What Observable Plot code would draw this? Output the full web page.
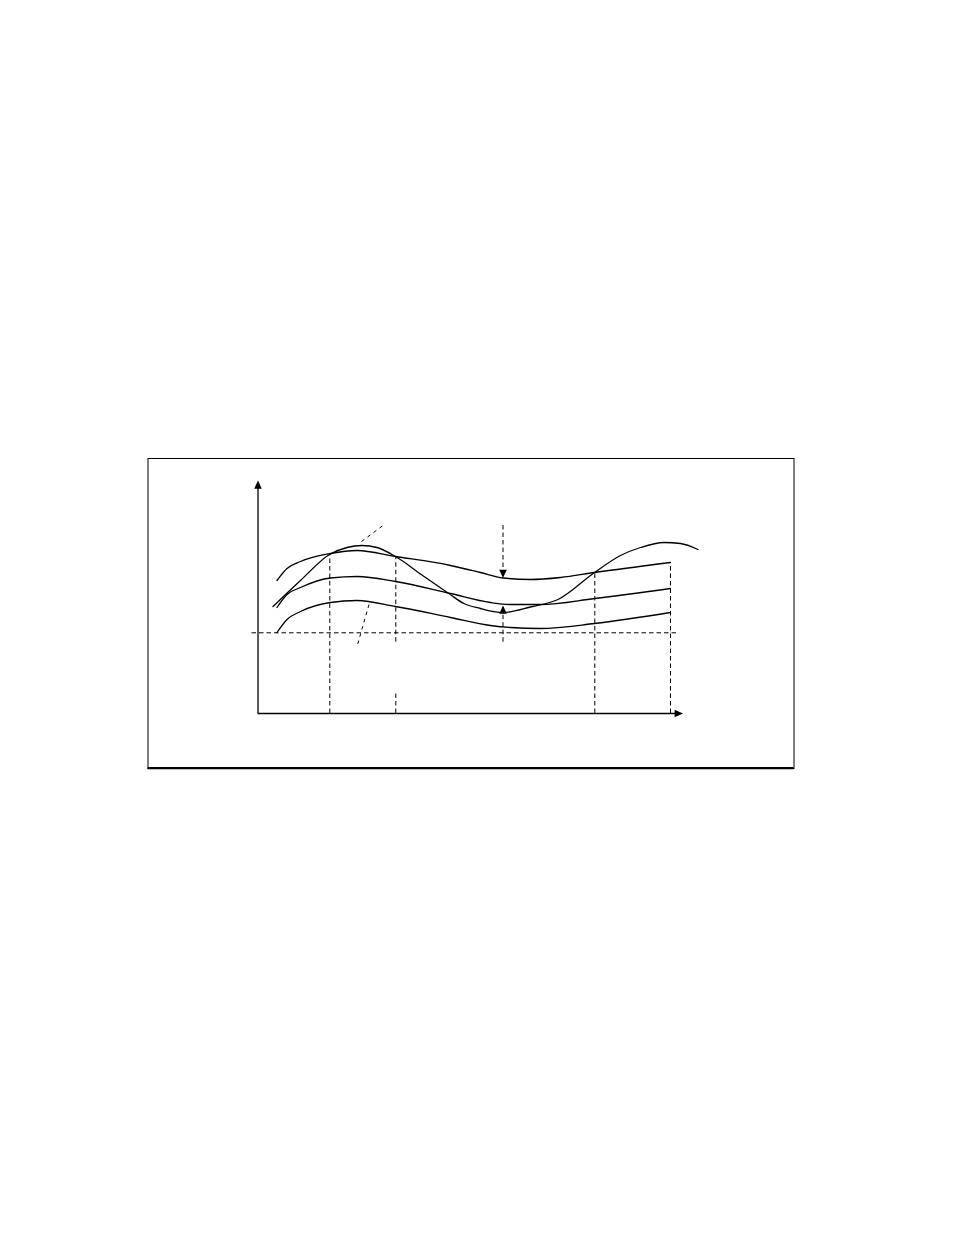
<!DOCTYPE html>
<html>
<head>
<meta charset="utf-8">
<script src="https://cdn.jsdelivr.net/npm/d3@7"></script>
<script src="https://cdn.jsdelivr.net/npm/@observablehq/plot@0.6"></script>
<style>
  html, body { margin: 0; padding: 0; background: #fff; }
  #spacer { height: 440px; }
  #chart svg { display: block; }
</style>
</head>
<body>
<div id="spacer"></div>
<div id="chart"></div>
<script>
// ---- scale extents (data units) ----
const xDomain = [-110, 536];
const yDomain = [-55, 255];

// ---- curves ----
const upperX = [19, 29, 42.5, 72.5, 99, 137.5, 192.5, 222.5, 245, 272.5, 302.5, 336.5, 412.5];
const upperY = [133, 145, 152, 160, 163, 157, 148, 141, 135.5, 134, 136, 141, 151];

const middleX = [19, 29, 42.5, 72.5, 99, 137.5, 192.5, 232.5, 252.5, 282.5, 336.5, 412.5];
const middleY = [106, 119, 126, 135.5, 137, 132, 120, 111, 109, 109, 115, 125];

const lowerX = [19, 29, 42.5, 72.5, 99, 137.5, 192.5, 232.5, 252.5, 282.5, 336.5, 412.5];
const lowerY = [81, 94, 102, 111, 113, 107, 96, 88, 86, 85, 90, 101];

const waveX = [15, 42.5, 71.5, 89, 104, 119, 137.5, 164, 190.8, 205.8, 222.5, 235, 244.5, 272.5, 300, 336.5, 362.5, 382.5, 406, 422.5, 440];
const waveY = [107, 133, 159, 166, 168, 166, 157, 138.5, 120, 110, 105, 102, 100.8, 106.5, 114, 141, 158, 166, 171, 170, 164];

// ---- reference lines ----
const levelY = 80.7;
const levelX = [-6, 418.5];

const dropX = [71.8, 137.8, 137.8, 336.8, 412.5];
const dropTop = [160, 157, 20.7, 141, 151];
const dropBottom = [0, 71.3, 0, 0, 0];

const tangentX1 = [103.5, 111];
const tangentY1 = [172, 109];
const tangentX2 = [125, 99];
const tangentY2 = [188, 67];

const markerX = 245;
const markerFrom = [188, 71.3];
const markerTo = [135.5, 108];

const axisXEnd = 425;
const axisYEnd = 233;

// ---- tables built from the arrays ----
const table = (series, xs, ys) => xs.map((x, i) => ({series, x, y: ys[i]}));
const curveRows = [
  ...table("upper", upperX, upperY),
  ...table("middle", middleX, middleY),
  ...table("lower", lowerX, lowerY),
  ...table("wave", waveX, waveY)
];
const dropRows = dropX.map((x, i) => ({x, y1: dropBottom[i], y2: dropTop[i]}));
const tangentRows = tangentX1.map((x, i) => ({x1: x, y1: tangentY1[i], x2: tangentX2[i], y2: tangentY2[i]}));
const markerRows = markerFrom.map((y, i) => ({x: markerX, y1: y, y2: markerTo[i]}));
const headRows = [
  {x: 0, y: axisYEnd, rotate: 0},
  {x: axisXEnd, y: 0, rotate: 90},
  {x: markerX, y: markerTo[0], rotate: 180},
  {x: markerX, y: markerTo[1], rotate: 0}
];

// arrowhead symbol: tip at origin, pointing up
const arrowHead = {
  draw(ctx, size) {
    const r = Math.sqrt(size / Math.PI);
    ctx.moveTo(0, 0);
    ctx.lineTo(r, 2.2 * r);
    ctx.lineTo(-r, 2.2 * r);
    ctx.closePath();
  }
};

const chart = Plot.plot({
  width: 954,
  height: 340,
  marginLeft: 147.5,
  marginRight: 160.5,
  marginTop: 18,
  marginBottom: 12,
  x: {domain: xDomain, axis: null},
  y: {domain: yDomain, axis: null},
  style: {background: "white", overflow: "visible"},
  marks: [
    Plot.frame({stroke: "black", strokeWidth: 1}),
    Plot.ruleY([yDomain[0] + 0.4], {stroke: "black", strokeWidth: 2.2}),
    // dashed guides
    Plot.ruleY([levelY], {x1: levelX[0], x2: levelX[1], stroke: "black", strokeWidth: 1, strokeDasharray: "4.5,3"}),
    Plot.ruleX(dropRows, {x: "x", y1: "y1", y2: "y2", stroke: "black", strokeWidth: 1, strokeDasharray: "4.5,3"}),
    Plot.link(tangentRows, {x1: "x1", y1: "y1", x2: "x2", y2: "y2", stroke: "black", strokeWidth: 1, strokeDasharray: "3.5,4"}),
    Plot.ruleX(markerRows, {x: "x", y1: "y1", y2: "y2", stroke: "black", strokeWidth: 1, strokeDasharray: "4.5,3"}),
    // axes
    Plot.ruleX([0], {y1: 0, y2: axisYEnd - 3, stroke: "black", strokeWidth: 1.3}),
    Plot.ruleY([0], {x1: 0, x2: axisXEnd - 3, stroke: "black", strokeWidth: 1.3}),
    // curves
    Plot.line(curveRows, {x: "x", y: "y", z: "series", curve: "monotone-x", stroke: "black", strokeWidth: 1.3}),
    // arrowheads
    Plot.dot(headRows, {x: "x", y: "y", rotate: "rotate", symbol: arrowHead, r: 3.8, fill: "black", stroke: "none"})
  ]
});
document.getElementById("chart").appendChild(chart);
</script>
</body>
</html>
